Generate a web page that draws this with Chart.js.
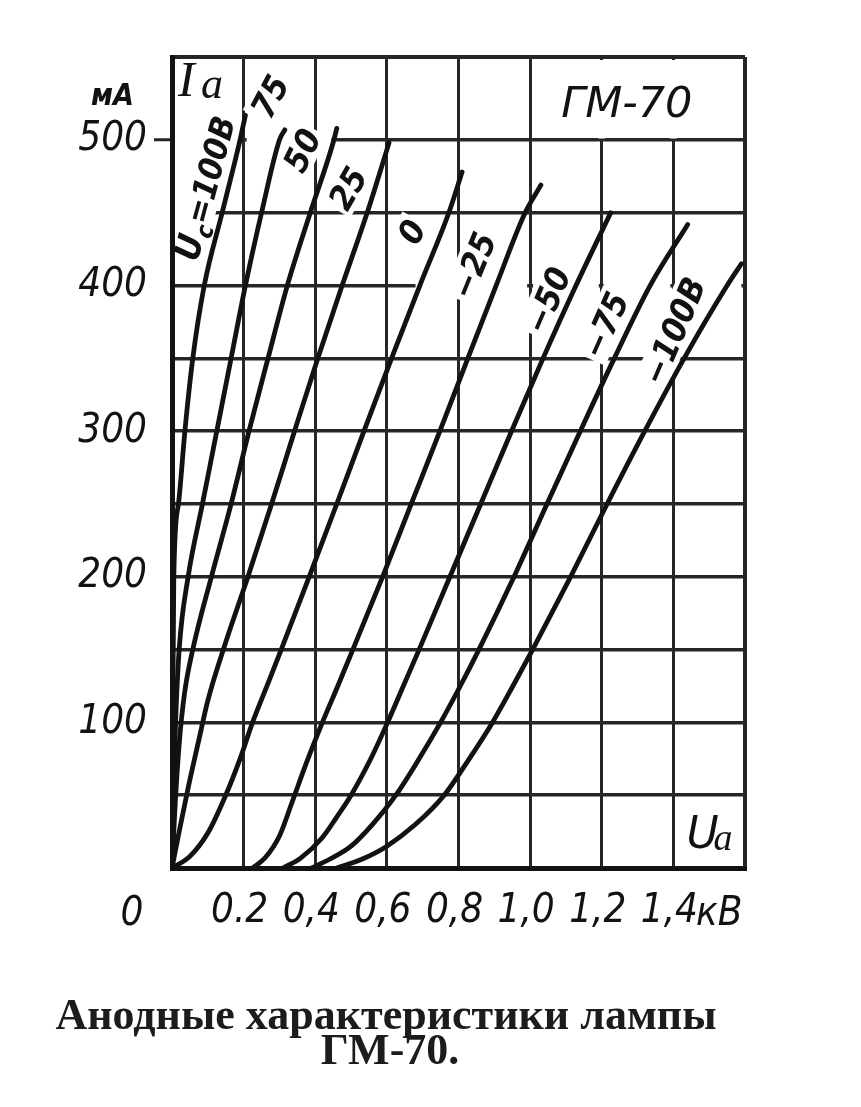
<!DOCTYPE html>
<html lang="ru">
<head>
<meta charset="utf-8">
<title>Анодные характеристики лампы ГМ-70</title>
<script src="https://cdn.jsdelivr.net/npm/chart.js@4.4.1/dist/chart.umd.min.js"></script>
<style>
  html, body { margin: 0; padding: 0; background: #fff; }
  canvas { display: block; }
</style>
</head>
<body>
<canvas id="gm70" width="861" height="1107"></canvas>
<script>
// ГМ-70: Ia = f(Ua) при разных Uc. Точки [Ua, кВ ; Ia, мА].
const gridVolts = [100, 75, 50, 25, 0, -25, -50, -75, -100];

const ucPlus100 = [[0, 0], [0.002, 100], [0.005, 200], [0.018, 250], [0.036, 300], [0.058, 350], [0.09, 400], [0.14, 450], [0.19, 500], [0.205, 517]];
const ucPlus75 = [[0, 0], [0.004, 50], [0.01, 100], [0.02, 150], [0.045, 200], [0.085, 250], [0.125, 300], [0.165, 350], [0.205, 400], [0.25, 450], [0.3, 500], [0.315, 507]];
const ucPlus50 = [[0, 0], [0.008, 40], [0.02, 85], [0.035, 120], [0.058, 150], [0.11, 200], [0.165, 250], [0.215, 300], [0.268, 350], [0.322, 400], [0.386, 450], [0.452, 500], [0.46, 508]];
const ucPlus25 = [[0, 0], [0.02, 25], [0.045, 55], [0.075, 88], [0.1, 115], [0.15, 155], [0.212, 200], [0.278, 250], [0.342, 300], [0.407, 350], [0.475, 400], [0.545, 450], [0.606, 498]];
const ucZero = [[0, 0], [0.05, 8], [0.1, 24], [0.15, 50], [0.19, 75], [0.225, 100], [0.27, 128], [0.305, 150], [0.383, 200], [0.46, 250], [0.536, 300], [0.613, 350], [0.692, 400], [0.773, 450], [0.81, 478]];
const ucMinus25 = [[0.225, 0], [0.26, 7], [0.3, 22], [0.335, 45], [0.375, 72], [0.42, 100], [0.463, 125], [0.505, 150], [0.588, 200], [0.668, 250], [0.748, 300], [0.826, 350], [0.905, 400], [0.986, 450], [1.03, 469]];
const ucMinus50 = [[0.31, 0], [0.36, 7], [0.42, 21], [0.46, 35], [0.5, 50], [0.555, 75], [0.602, 100], [0.646, 125], [0.69, 150], [0.776, 200], [0.862, 250], [0.948, 300], [1.036, 350], [1.128, 400], [1.225, 450]];
const ucMinus75 = [[0.39, 0], [0.44, 6], [0.5, 15], [0.56, 30], [0.625, 50], [0.69, 75], [0.75, 100], [0.805, 125], [0.857, 150], [0.955, 200], [1.047, 250], [1.14, 300], [1.235, 350], [1.335, 400], [1.44, 442]];
const ucMinus100 = [[0.46, 0], [0.53, 6], [0.6, 15], [0.68, 30], [0.76, 50], [0.83, 75], [0.895, 100], [0.952, 125], [1.007, 150], [1.113, 200], [1.215, 250], [1.32, 300], [1.43, 350], [1.55, 400], [1.59, 415]];

const curves = [ucPlus100, ucPlus75, ucPlus50, ucPlus25, ucZero, ucMinus25, ucMinus50, ucMinus75, ucMinus100];

const xTickText = ['0', '0.2', '0,4', '0,6', '0,8', '1,0', '1,2', '1,4', 'кВ'];
const yTickText = [100, 200, 300, 400, 500];

// where the curve names sit: [Ua, Ia, angle in degrees]
const curveLabelAt = [[0.09, 467, -75], [0.272, 530, -62], [0.362, 493, -64], [0.49, 467, -60], [0.668, 437, -62],
                      [0.84, 414, -68], [1.047, 390, -67], [1.208, 373, -66], [1.4, 369, -67]];

// pieces of grid that are blank on the original: [value, from, to]
const hGaps = [[500, 0.006, 0.445], [450, 0.006, 0.12], [400, 0.68, 1.59]];
const vGaps = [[1.2, 501, 562], [1.4, 501, 562]];

const ink = '#121212';
const gridInk = '#262626';
const tickFamily = "'DejaVu Sans Condensed', 'Liberation Sans Narrow', 'DejaVu Sans', sans-serif";
const labelFamily = "'DejaVu Sans', sans-serif";
const serifFamily = "'Liberation Serif', 'DejaVu Serif', serif";

function curveLabelParts(v, k) {
  const num = v < 0 ? '\u2212' + Math.abs(v) : String(v);
  if (k === 0) return [['U', 35, 0], ['c', 24, 7], ['=' + num + 'В', 33, 0]];
  if (k === gridVolts.length - 1) return [[num + 'В', 34, 0]];
  return [[num, 34, 0]];
}

function drawParts(ctx, parts, family, plate) {
  let w = 0;
  const widths = parts.map(([t, size]) => {
    ctx.font = `italic bold ${size}px ${family}`;
    const m = ctx.measureText(t).width;
    w += m;
    return m;
  });
  const cap = 0.72 * parts[0][1];
  if (plate) {
    ctx.fillStyle = '#fff';
    ctx.fillRect(-w / 2 - 3, -cap / 2 - 5, w + 6, cap + 10);
  }
  ctx.fillStyle = ink;
  ctx.textBaseline = 'alphabetic';
  ctx.textAlign = 'left';
  let cx = -w / 2;
  parts.forEach(([t, size, dy], i) => {
    ctx.font = `italic bold ${size}px ${family}`;
    ctx.fillText(t, cx, cap / 2 + dy);
    cx += widths[i];
  });
}

function strokeGap(ctx, a, b, cuts, draw) {
  let s = a;
  cuts.filter(c => c > Math.min(a, b) && c < Math.max(a, b)).sort((p, q) => p - q).concat([b + 3]).forEach(c => {
    const e = c - 3;
    if (e > s) draw(s, e);
    s = c + 3;
  });
}

const annotate = {
  id: 'annotate',
  beforeDatasetsDraw(chart) {
    const { ctx, chartArea: ca, scales: { x, y } } = chart;
    ctx.save();
    ctx.beginPath();
    ctx.rect(ca.left + 3, ca.top + 3, ca.width - 6, ca.height - 6);
    ctx.clip();

    ctx.strokeStyle = '#fff';
    ctx.lineWidth = 7;
    const xs = x.ticks.map(t => x.getPixelForValue(t.value));
    const ys = y.ticks.map(t => y.getPixelForValue(t.value));
    hGaps.forEach(([mA, a, b]) => {
      const py = y.getPixelForValue(mA);
      strokeGap(ctx, x.getPixelForValue(a), x.getPixelForValue(b), xs, (s, e) => {
        ctx.beginPath(); ctx.moveTo(s, py); ctx.lineTo(e, py); ctx.stroke();
      });
    });
    vGaps.forEach(([kv, a, b]) => {
      const px = x.getPixelForValue(kv);
      const pa = y.getPixelForValue(b), pb = y.getPixelForValue(a);
      strokeGap(ctx, pa, pb, ys, (s, e) => {
        ctx.beginPath(); ctx.moveTo(px, s); ctx.lineTo(px, e); ctx.stroke();
      });
    });

    curveLabelAt.forEach(([u, i, deg], k) => {
      ctx.save();
      ctx.translate(x.getPixelForValue(u), y.getPixelForValue(i));
      ctx.rotate(deg * Math.PI / 180);
      drawParts(ctx, curveLabelParts(gridVolts[k], k), tickFamily, true);
      ctx.restore();
    });
    ctx.restore();
  },
  afterDraw(chart) {
    const { ctx, chartArea: ca, scales: { x } } = chart;
    ctx.save();
    ctx.fillStyle = ink;
    ctx.textBaseline = 'alphabetic';

    // origin and unit on the Ua axis
    ctx.font = `italic 40px ${tickFamily}`;
    ctx.textAlign = 'center';
    ctx.fillText(xTickText[0], ca.left - 40, ca.bottom + 57);
    ctx.fillText(xTickText[xTickText.length - 1], x.getPixelForValue(1.5) + 10, ca.bottom + 57);

    // axis names
    ctx.textAlign = 'right';
    ctx.font = `italic bold 30px ${tickFamily}`;
    ctx.fillText('мА', ca.left - 38, ca.top + 48);

    ctx.textAlign = 'left';
    ctx.font = `italic 50px ${serifFamily}`;
    ctx.fillText('I', ca.left + 6, ca.top + 39);
    ctx.font = `italic 44px ${serifFamily}`;
    ctx.fillText('a', ca.left + 29, ca.top + 41);

    const ux = x.getPixelForValue(1.4) + 13;
    ctx.font = `italic 44px ${labelFamily}`;
    ctx.fillText('U', ux, ca.bottom - 20);
    ctx.font = `italic 38px ${serifFamily}`;
    ctx.fillText('a', ux + 27, ca.bottom - 18);

    // tube type
    ctx.textAlign = 'center';
    ctx.font = `italic 43px ${labelFamily}`;
    ctx.fillText('ГМ-70', x.getPixelForValue(1.27), ca.top + 60);

    // caption under the chart
    ctx.fillStyle = '#1c1c1c';
    ctx.font = `bold 44px ${serifFamily}`;
    ctx.fillText('Анодные характеристики лампы', 386, ca.bottom + 161);
    ctx.fillText('ГМ-70.', 390, ca.bottom + 196);
    ctx.restore();
  }
};

new Chart(document.getElementById('gm70'), {
  type: 'scatter',
  data: {
    datasets: curves.map((pts, k) => ({
      label: 'Uc = ' + gridVolts[k] + ' В',
      data: pts.map(([u, i]) => ({ x: u, y: i })),
      showLine: true,
      borderColor: ink,
      borderWidth: 4.8,
      borderCapStyle: 'round',
      pointRadius: 0,
      cubicInterpolationMode: 'monotone',
      fill: false
    }))
  },
  options: {
    responsive: false,
    animation: false,
    events: [],
    layout: { padding: { top: 57, right: 116, bottom: 159, left: 0 } },
    plugins: { legend: { display: false }, tooltip: { enabled: false } },
    scales: {
      x: {
        type: 'linear',
        min: 0,
        max: 1.6,
        afterFit(scale) { scale.height = 80; },
        ticks: {
          stepSize: 0.2,
          autoSkip: false,
          maxRotation: 0,
          padding: 20,
          labelOffset: -4,
          color: ink,
          font: { family: tickFamily, size: 40, style: 'italic' },
          callback: (v, i) => (i === 0 || i === xTickText.length - 1) ? '' : xTickText[i]
        },
        grid: {
          color: gridInk,
          lineWidth: c => (c.tick && c.tick.value >= 1.59) ? 4 : 3,
          drawTicks: false
        },
        border: { color: ink, width: 5 }
      },
      y: {
        type: 'linear',
        min: 0,
        max: 557,
        afterFit(scale) { scale.width = 172; },
        ticks: {
          stepSize: 50,
          autoSkip: false,
          padding: 7,
          color: ink,
          font: { family: tickFamily, size: 40, style: 'italic' },
          callback: v => yTickText.includes(v) ? String(v) : ''
        },
        grid: {
          color: gridInk,
          lineWidth: c => (c.tick && c.tick.value > 550) ? 4 : 3.5,
          tickLength: 18,
          tickWidth: 3,
          tickColor: c => (c.tick && c.tick.value === 500) ? gridInk : 'rgba(0,0,0,0)'
        },
        border: { color: ink, width: 5 }
      }
    }
  },
  plugins: [annotate]
});
</script>
</body>
</html>
